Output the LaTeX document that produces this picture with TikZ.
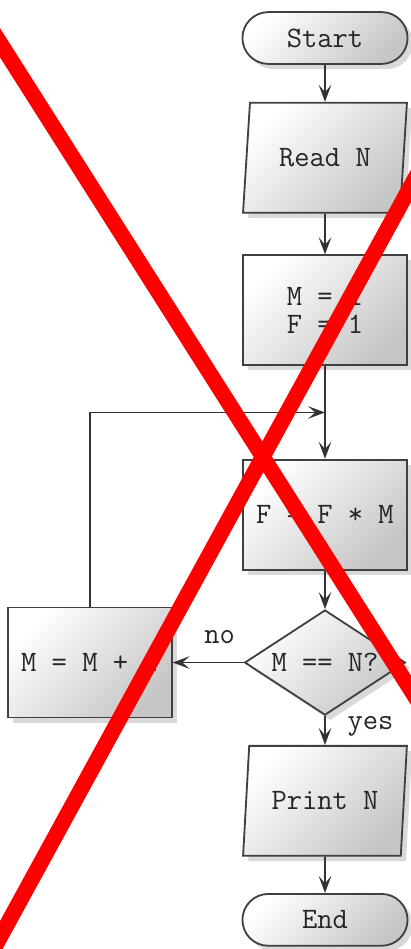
\documentclass[tikz,border=0pt]{standalone}
\usepackage{fontspec}
\usetikzlibrary{arrows.meta, shapes.geometric, positioning, calc, shadows}

\begin{document}
\begin{tikzpicture}[
    x=0.0135cm, y=-0.0135cm,
    every node/.style={font=\fontsize{11.4}{11}\selectfont\ttfamily, text=black!85},
    base/.style={draw=black!75, line width=0.7pt, top color=white,
                 bottom color=gray!45, shading angle=45,
                 drop shadow={shadow xshift=0.7mm, shadow yshift=-0.7mm, opacity=0.3}},
    terminal/.style={base, rectangle, rounded corners=0.35cm,
                     minimum width=2.23cm, minimum height=0.7cm},
    io/.style={base, trapezium, trapezium left angle=82, trapezium right angle=98,
               trapezium stretches=true, minimum width=2.22cm, minimum height=1.485cm},
    block/.style={base, rectangle, minimum width=2.21cm, minimum height=1.485cm,
                  align=center},
    decision/.style={base, diamond, aspect=1.53, inner sep=0pt,
                     minimum width=2.17cm, minimum height=1.42cm},
    arrow/.style={-{Stealth[length=2.3mm, width=1.7mm, inset=1mm]}, draw=black!80,
                  line width=0.7pt},
    cross/.style={red, line width=6pt}
]
    \useasboundingbox (0,0) rectangle (411,949);

    \node[terminal] (start) at (325,38) {Start};
    \node[io, below=0.5cm of start] (readn) {Read N};
    \node[block, below=0.55cm of readn] (init) {M = 1\\F = 1};
    \node[block, below=1.25cm of init] (body) {F = F * M};
    \node[decision, below=0.52cm of body] (test) {M == N?};
    \node[block, left=0.96cm of test] (incr) {M = M + 1};
    \node[io, below=0.39cm of test] (printn) {Print N};
    \node[terminal, below=0.49cm of printn] (stop) {End};

    \coordinate (merge) at ($(init.south)!0.5!(body.north)$);

    \draw[arrow] (start) -- (readn);
    \draw[arrow] (readn) -- (init);
    \draw[arrow] (init) -- (body);
    \draw[arrow] (incr.north) |- (merge);
    \draw[arrow] (body) -- (test);
    \draw[arrow] (test) -- node[above=3.5pt, pos=0.34] {no} (incr);
    \draw[arrow] (test) -- node[right=5pt, pos=0.35] {yes} (printn);
    \draw[arrow] (printn) -- (stop);

    % the big red cross
    \draw[cross] (-10,27) -- (421,706);
    \draw[cross] (424,162) -- (-14,963);
\end{tikzpicture}
\end{document}
